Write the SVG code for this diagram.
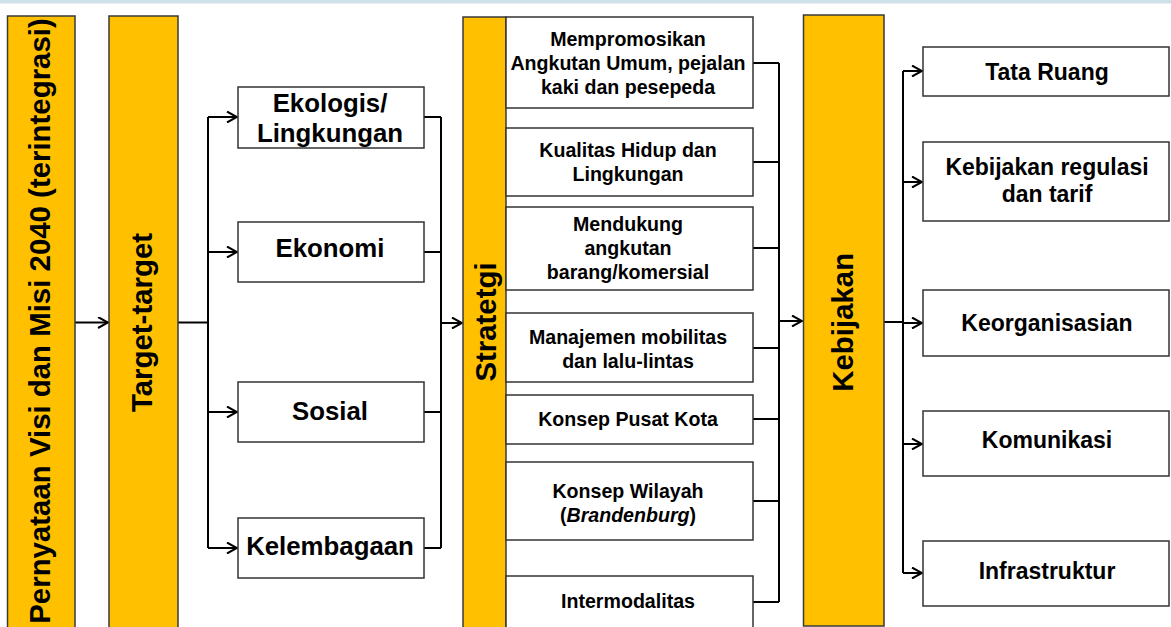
<svg xmlns="http://www.w3.org/2000/svg" width="1171" height="627" viewBox="0 0 1171 627">
  <style>
    .bar { fill: #FFC000; stroke: #3a3a3a; stroke-width: 1.5; }
    .box { fill: #ffffff; stroke: #333333; stroke-width: 1.5; }
    .lbl { font-family: "Liberation Sans", Arial, Helvetica, sans-serif; font-weight: bold; fill: #000000; text-anchor: middle; }
    .big { font-size: 29.4px; }
    .tg { font-size: 25.8px; }
    .st { font-size: 19.6px; }
    .pl { font-size: 23px; }
    .wire { fill: none; stroke: #000000; stroke-width: 2; }
  </style>
  <defs>
    <marker id="arrow" viewBox="0 0 12 12" refX="11" refY="6" markerWidth="12" markerHeight="12" markerUnits="userSpaceOnUse" orient="auto">
      <path d="M1,0.5 L11,6 L1,11.5" fill="none" stroke="#000000" stroke-width="2"/>
    </marker>
  </defs>

  <rect x="0" y="0" width="1171" height="627" fill="#ffffff"/>
  <!-- thin header strip -->
  <rect x="0" y="0" width="1171" height="3.5" fill="#cfe1e8"/>

  <!-- connectors -->
  <g id="connectors" class="wire">
    <line x1="75" y1="322.5" x2="108" y2="322.5" marker-end="url(#arrow)"/>
    <!-- targets fan-out -->
    <path d="M178,322.5 H208 M208,117 V548"/>
    <line x1="208" y1="117" x2="237" y2="117" marker-end="url(#arrow)"/>
    <line x1="208" y1="252" x2="237" y2="252" marker-end="url(#arrow)"/>
    <line x1="208" y1="412" x2="237" y2="412" marker-end="url(#arrow)"/>
    <line x1="208" y1="548" x2="237" y2="548" marker-end="url(#arrow)"/>
    <!-- targets fan-in -->
    <path d="M424,117 H441 M424,252 H441 M424,412 H441 M424,548 H441 M441,117 V548"/>
    <line x1="441" y1="323" x2="462" y2="323" marker-end="url(#arrow)"/>
    <!-- strategies fan-in -->
    <path d="M753,63 H779 M753,162 H779 M753,248 H779 M753,348 H779 M753,419 H779 M753,501 H779 M753,602 H779 M779,63 V602"/>
    <line x1="779" y1="321" x2="802" y2="321" marker-end="url(#arrow)"/>
    <!-- policies fan-out -->
    <path d="M884,322 H903 M903,71 V573"/>
    <line x1="903" y1="71" x2="922" y2="71" marker-end="url(#arrow)"/>
    <line x1="903" y1="182" x2="922" y2="182" marker-end="url(#arrow)"/>
    <line x1="903" y1="323" x2="922" y2="323" marker-end="url(#arrow)"/>
    <line x1="903" y1="444" x2="922" y2="444" marker-end="url(#arrow)"/>
    <line x1="903" y1="573" x2="922" y2="573" marker-end="url(#arrow)"/>
  </g>

  <!-- main columns -->
  <g id="visi-misi">
    <rect class="bar" x="7.5" y="16" width="67.5" height="630"/>
    <text class="lbl big" transform="translate(50,321) rotate(-90)">Pernyataan Visi dan Misi 2040 (terintegrasi)</text>
  </g>
  <g id="target-target">
    <rect class="bar" x="109" y="16" width="69" height="630"/>
    <text class="lbl big" transform="translate(151.5,322.5) rotate(-90)">Target-target</text>
  </g>
  <g id="strategi">
    <rect class="bar" x="463" y="17" width="43" height="630"/>
    <text class="lbl big" transform="translate(496,322) rotate(-90)">Stratetgi</text>
  </g>
  <g id="kebijakan">
    <rect class="bar" x="803.5" y="15" width="80.5" height="611"/>
    <text class="lbl big" transform="translate(853,322.3) rotate(-90)">Kebijakan</text>
  </g>

  <!-- targets -->
  <g id="t-ekologis">
    <rect class="box" x="238" y="87" width="186" height="61"/>
    <text class="lbl tg" x="330" y="111.5">Ekologis/</text>
    <text class="lbl tg" x="330" y="141.5">Lingkungan</text>
  </g>
  <g id="t-ekonomi">
    <rect class="box" x="238" y="222" width="186" height="60"/>
    <text class="lbl tg" x="330" y="256.7">Ekonomi</text>
  </g>
  <g id="t-sosial">
    <rect class="box" x="238" y="382" width="186" height="60"/>
    <text class="lbl tg" x="330" y="420">Sosial</text>
  </g>
  <g id="t-kelembagaan">
    <rect class="box" x="238" y="518" width="186" height="60"/>
    <text class="lbl tg" x="330" y="555">Kelembagaan</text>
  </g>

  <!-- strategies -->
  <g id="s-promosi">
    <rect class="box" x="506" y="17" width="247" height="91"/>
    <text class="lbl st" x="628" y="45.5">Mempromosikan</text>
    <text class="lbl st" x="628" y="70">Angkutan Umum, pejalan</text>
    <text class="lbl st" x="628" y="94">kaki dan pesepeda</text>
  </g>
  <g id="s-kualitas">
    <rect class="box" x="506" y="128" width="247" height="68"/>
    <text class="lbl st" x="628" y="157">Kualitas Hidup dan</text>
    <text class="lbl st" x="628" y="181">Lingkungan</text>
  </g>
  <g id="s-barang">
    <rect class="box" x="506" y="207" width="247" height="83"/>
    <text class="lbl st" x="628" y="231">Mendukung</text>
    <text class="lbl st" x="628" y="255">angkutan</text>
    <text class="lbl st" x="628" y="279">barang/komersial</text>
  </g>
  <g id="s-mobilitas">
    <rect class="box" x="506" y="313" width="247" height="69"/>
    <text class="lbl st" x="628" y="344.3">Manajemen mobilitas</text>
    <text class="lbl st" x="628" y="367.7">dan lalu-lintas</text>
  </g>
  <g id="s-pusat-kota">
    <rect class="box" x="506" y="395" width="247" height="49"/>
    <text class="lbl st" x="628" y="426">Konsep Pusat Kota</text>
  </g>
  <g id="s-wilayah">
    <rect class="box" x="506" y="462" width="247" height="78"/>
    <text class="lbl st" x="628" y="498.3">Konsep Wilayah</text>
    <text class="lbl st" x="628" y="521.7">(<tspan font-style="italic">Brandenburg</tspan>)</text>
  </g>
  <g id="s-intermodalitas">
    <rect class="box" x="506" y="576" width="247" height="70"/>
    <text class="lbl st" x="628" y="608.3">Intermodalitas</text>
  </g>

  <!-- policies -->
  <g id="p-tata-ruang">
    <rect class="box" x="923" y="47" width="246" height="49"/>
    <text class="lbl pl" x="1047" y="80">Tata Ruang</text>
  </g>
  <g id="p-regulasi">
    <rect class="box" x="923" y="142" width="246" height="79"/>
    <text class="lbl pl" x="1047" y="175">Kebijakan regulasi</text>
    <text class="lbl pl" x="1047" y="201.7">dan tarif</text>
  </g>
  <g id="p-keorganisasian">
    <rect class="box" x="923" y="290" width="246" height="66"/>
    <text class="lbl pl" x="1047" y="331">Keorganisasian</text>
  </g>
  <g id="p-komunikasi">
    <rect class="box" x="923" y="411" width="246" height="65"/>
    <text class="lbl pl" x="1047" y="448">Komunikasi</text>
  </g>
  <g id="p-infrastruktur">
    <rect class="box" x="923" y="541" width="246" height="65"/>
    <text class="lbl pl" x="1047" y="579">Infrastruktur</text>
  </g>
</svg>
